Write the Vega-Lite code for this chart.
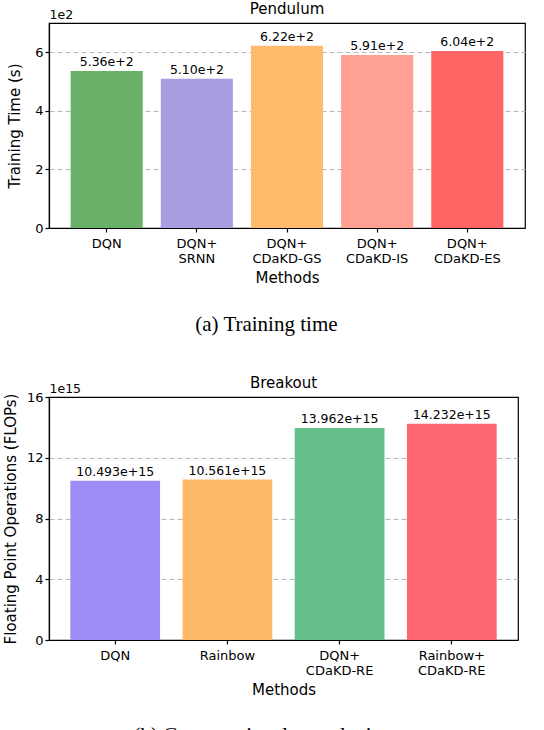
{
  "$schema": "https://vega.github.io/schema/vega-lite/v6.json",
  "background": "white",
  "padding": {"left": 2, "top": 1, "right": 0, "bottom": 0},
  "spacing": 40,
  "config": {
    "font": "DejaVu Sans",
    "view": {"stroke": "black", "strokeWidth": 1.2},
    "title": {"fontSize": 15, "fontWeight": "normal", "color": "black", "offset": -9},
    "axis": {
      "zindex": 1,
      "domainColor": "black",
      "domainWidth": 1.2,
      "tickColor": "black",
      "tickSize": 4,
      "tickWidth": 1.2,
      "labelColor": "black",
      "labelFontSize": 13,
      "labelPadding": 2,
      "titleColor": "black",
      "titleFontSize": 15,
      "titleFontWeight": "normal"
    },
    "axisX": {"grid": false, "labelAngle": 0, "labelPadding": 5, "titlePadding": 5},
    "axisY": {"grid": true, "gridColor": "#b8b8b8", "gridDash": [5, 3], "gridWidth": 1.2}
  },
  "resolve": {"scale": {"color": "independent"}},
  "vconcat": [
    {
      "title": {"text": "(a) Training time", "orient": "bottom", "anchor": "middle", "font": "Liberation Serif", "fontSize": 21, "offset": 28},
      "vconcat": [
        {
          "width": 476,
          "height": 205,
          "title": "Pendulum",
          "data": {
            "values": [
              {"method": "DQN", "time": 536},
              {"method": "DQN+\nSRNN", "time": 510},
              {"method": "DQN+\nCDaKD-GS", "time": 622},
              {"method": "DQN+\nCDaKD-IS", "time": 591},
              {"method": "DQN+\nCDaKD-ES", "time": 604}
            ]
          },
          "encoding": {
            "x": {
              "field": "method",
              "type": "nominal",
              "sort": null,
              "scale": {"paddingInner": 0.2, "paddingOuter": 0.24},
              "axis": {"title": "Methods", "labelExpr": "split(datum.label, '\\n')", "labelLineHeight": 15}
            }
          },
          "layer": [
            {
              "mark": {"type": "bar"},
              "encoding": {
                "y": {
                  "field": "time",
                  "type": "quantitative",
                  "scale": {"domain": [0, 700]},
                  "axis": {"title": "Training Time (s)", "values": [0, 200, 400, 600], "labelExpr": "format(datum.value / 100, 'd')", "titlePadding": 12}
                },
                "color": {
                  "field": "method",
                  "type": "nominal",
                  "sort": null,
                  "scale": {"range": ["#69b168", "#a89fe0", "#fdbb6b", "#fea192", "#fe6565"]},
                  "legend": null
                }
              }
            },
            {
              "mark": {"type": "text", "baseline": "alphabetic", "dy": -5, "fontSize": 12.5, "color": "black"},
              "encoding": {
                "y": {
                  "field": "time",
                  "type": "quantitative",
                  "scale": {"domain": [0, 700]},
                  "axis": {"orient": "right", "title": "1e2", "labels": false, "ticks": false, "domain": false, "grid": false, "titleAngle": 0, "titleAlign": "left", "titleBaseline": "bottom", "titleX": -476, "titleY": -2, "titleFontSize": 12.5}
                },
                "text": {"field": "time", "type": "quantitative", "format": ".2e"}
              }
            }
          ],
          "resolve": {"scale": {"y": "independent"}, "axis": {"y": "independent"}}
        }
      ]
    },
    {
      "title": {"text": "(b) Computational complexity", "orient": "bottom", "anchor": "middle", "font": "Liberation Serif", "fontSize": 21, "offset": 27},
      "vconcat": [
        {
          "width": 469,
          "height": 243,
          "title": "Breakout",
          "data": {
            "values": [
              {"method": "DQN", "flops": 10.493e15},
              {"method": "Rainbow", "flops": 10.561e15},
              {"method": "DQN+\nCDaKD-RE", "flops": 13.962e15},
              {"method": "Rainbow+\nCDaKD-RE", "flops": 14.232e15}
            ]
          },
          "transform": [
            {"calculate": "format(datum.flops / 1e15, '.3f') + 'e+15'", "as": "label"}
          ],
          "encoding": {
            "x": {
              "field": "method",
              "type": "nominal",
              "sort": null,
              "scale": {"paddingInner": 0.2, "paddingOuter": 0.19},
              "axis": {"title": "Methods", "labelExpr": "split(datum.label, '\\n')", "labelLineHeight": 15}
            }
          },
          "layer": [
            {
              "mark": {"type": "bar"},
              "encoding": {
                "y": {
                  "field": "flops",
                  "type": "quantitative",
                  "scale": {"domain": [0, 16e15]},
                  "axis": {
                    "title": "Floating Point Operations (FLOPs)",
                    "values": [0, 4e15, 8e15, 12e15, 16e15],
                    "labelExpr": "format(datum.value / 1e15, 'd')",
                    "titlePadding": 8,
                    "gridOpacity": {"condition": {"test": "datum.value >= 16e15", "value": 0}, "value": 1}
                  }
                },
                "color": {
                  "field": "method",
                  "type": "nominal",
                  "sort": null,
                  "scale": {"range": ["#9f8cf4", "#fdbb6a", "#65bf88", "#fe6670"]},
                  "legend": null
                }
              }
            },
            {
              "mark": {"type": "text", "baseline": "alphabetic", "dy": -5, "fontSize": 12.5, "color": "black"},
              "encoding": {
                "y": {
                  "field": "flops",
                  "type": "quantitative",
                  "scale": {"domain": [0, 16e15]},
                  "axis": {"orient": "right", "title": "1e15", "labels": false, "ticks": false, "domain": false, "grid": false, "titleAngle": 0, "titleAlign": "left", "titleBaseline": "bottom", "titleX": -469, "titleY": -2, "titleFontSize": 12.5}
                },
                "text": {"field": "label", "type": "nominal"}
              }
            }
          ],
          "resolve": {"scale": {"y": "independent"}, "axis": {"y": "independent"}}
        }
      ]
    }
  ]
}
